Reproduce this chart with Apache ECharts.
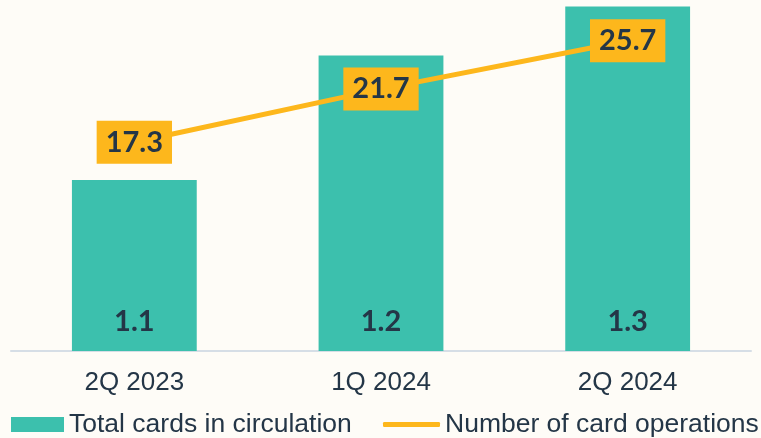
<!DOCTYPE html>
<html>
<head>
<meta charset="utf-8">
<script src="https://cdn.jsdelivr.net/npm/echarts@6/dist/echarts.min.js"></script>
<style>
html,body{margin:0;padding:0;background:#FEFCF7;}
#c{width:761px;height:438px;}
</style>
</head>
<body>
<div id="c"></div>
<script>
const categories = ['2Q 2023', '1Q 2024', '2Q 2024'];
const cardsInCirculation = [1.07, 1.23, 1.293];
const cardOperations = [17.3, 21.7, 25.7];
const seriesNames = ['Total cards in circulation', 'Number of card operations'];

const TEAL = '#3CC0AD';
const ORANGE = '#FDB71C';
const DARK = '#243647';

const chart = echarts.init(document.getElementById('c'), null, {renderer: 'canvas'});
chart.setOption({
  backgroundColor: '#FEFCF7',
  animation: false,
  grid: {left: 11, right: 10, top: 1, bottom: 87, containLabel: false},
  xAxis: {
    type: 'category',
    data: categories,
    axisLine: {lineStyle: {color: '#D6DEE6', width: 2}},
    axisTick: {show: false},
    axisLabel: {color: DARK, fontSize: 26, fontFamily: 'Liberation Sans, Arial', margin: 19}
  },
  yAxis: [
    {type: 'value', min: 0.85, max: 1.3, show: false, splitLine: {show: false}},
    {type: 'value', min: 0, max: 29, show: false, splitLine: {show: false}}
  ],
  legend: [
    {
      data: [{name: seriesNames[0], icon: 'rect'}],
      left: 6, top: 406,
      itemWidth: 53, itemHeight: 15,
      textStyle: {color: DARK, fontSize: 26.5, fontFamily: 'Liberation Sans, Arial'}
    },
    {
      data: [{name: seriesNames[1], icon: 'roundRect'}],
      left: 378, top: 406,
      itemWidth: 57, itemHeight: 5,
      textStyle: {color: DARK, fontSize: 26.5, fontFamily: 'Liberation Sans, Arial'}
    }
  ],
  series: [
    {
      name: seriesNames[0],
      type: 'bar',
      yAxisIndex: 0,
      data: cardsInCirculation,
      barWidth: '50.6%',
      itemStyle: {color: TEAL},
      label: {
        show: true,
        position: 'insideBottom',
        distance: 15,
        formatter: p => p.value.toFixed(1),
        color: DARK,
        fontSize: 29,
        fontWeight: 'bold',
        fontFamily: 'Lato, Noto Sans'
      }
    },
    {
      name: seriesNames[1],
      type: 'line',
      yAxisIndex: 1,
      data: cardOperations,
      symbol: 'circle',
      symbolSize: 1,
      showSymbol: true,
      lineStyle: {color: ORANGE, width: 5},
      itemStyle: {color: ORANGE},
      z: 5,
      label: {
        show: true,
        position: 'inside',
        formatter: p => p.value.toFixed(1),
        color: DARK,
        fontSize: 29,
        fontWeight: 'bold',
        fontFamily: 'Lato, Noto Sans',
        backgroundColor: ORANGE,
        padding: [7, 9, 7, 9]
      }
    }
  ]
});
</script>
</body>
</html>
